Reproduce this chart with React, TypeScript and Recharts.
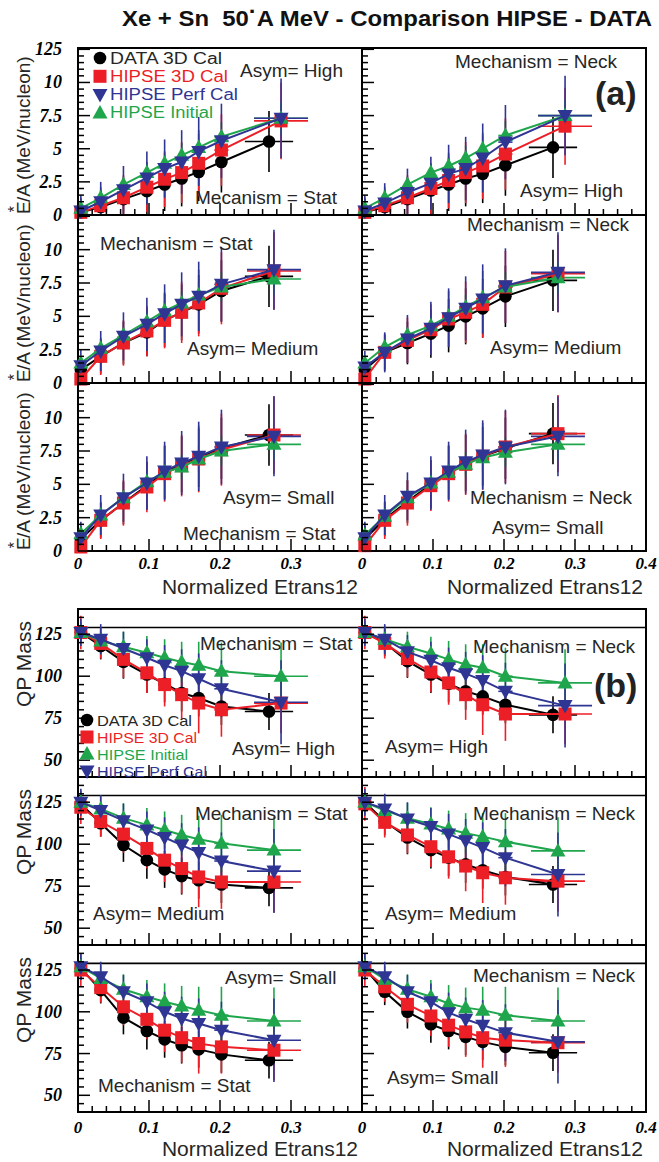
import React from "react";
import {
  ComposedChart,
  Scatter,
  XAxis,
  YAxis,
  ErrorBar,
  ReferenceArea,
  ReferenceLine,
} from "recharts";

// bin centres (Normalized Etrans12)
const X_DATA = [0.004, 0.032, 0.064, 0.097, 0.122, 0.146, 0.17, 0.202, 0.269];
const X_HIPSE_HIGH = [0.004, 0.032, 0.064, 0.097, 0.122, 0.146, 0.17, 0.202, 0.286];
const X_HIPSE = [0.004, 0.032, 0.064, 0.097, 0.122, 0.146, 0.17, 0.202, 0.276];

// horizontal errors (only the wide last bins)
const EX_DATA = [0, 0, 0, 0, 0, 0, 0, 0.008, 0.034];
const EX_HIPSE = [0, 0, 0, 0, 0, 0, 0, 0.01, 0.038];

// (a) E*/A vertical errors
const EA_DAT = [1.0, 1.3, 1.6, 1.8, 2.0, 2.1, 2.2, 2.3, 2.3];
const EA_CAL = [1.1, 1.4, 1.7, 1.9, 2.1, 2.3, 2.5, 2.7, 2.9];
const EA_INI = [0.4, 0.5, 0.6, 0.7, 0.8, 0.9, 1.0, 1.1, 1.2];
const EA_PERF = [1.2, 1.5, 1.8, 2.0, 2.2, 2.4, 2.6, 2.8, 3.0];

// (b) QP mass vertical errors
const EB_DAT = [6, 8, 10, 11, 11, 11, 11, 11, 11];
const EB_CAL = [10, 9, 11, 12, 13, 15, 18, 16, 18];
const EB_INI = [6, 8, 9, 10, 11, 12, 14, 17, 20];
const EB_PERF = [8, 9, 10, 11, 12, 13, 15, 17, 25];

// (a) E*/A values
const A_STAT_HIGH_DAT = [0.2, 0.6, 1.2, 1.8, 2.3, 2.75, 3.25, 4.0, 5.55];
const A_STAT_HIGH_CAL = [0.2, 0.7, 1.3, 2.1, 2.7, 3.2, 3.9, 4.9, 7.1];
const A_STAT_HIGH_INI = [0.5, 1.3, 2.3, 3.2, 3.9, 4.5, 5.1, 5.9, 7.3];
const A_STAT_HIGH_PERF = [0.3, 1.0, 1.9, 2.8, 3.5, 4.0, 4.8, 5.6, 7.3];

const A_NECK_HIGH_DAT = [0.2, 0.6, 1.2, 1.85, 2.3, 2.75, 3.1, 3.75, 5.1];
const A_NECK_HIGH_CAL = [0.2, 0.7, 1.3, 2.0, 2.6, 3.2, 3.7, 4.6, 6.7];
const A_NECK_HIGH_INI = [0.5, 1.3, 2.3, 3.2, 3.7, 4.3, 5.0, 6.0, 7.5];
const A_NECK_HIGH_PERF = [0.3, 0.9, 1.7, 2.4, 3.1, 3.5, 4.3, 5.5, 7.5];

const A_STAT_MED_DAT = [1.0, 2.0, 3.0, 3.8, 4.7, 5.3, 5.9, 6.9, 8.0];
const A_STAT_MED_CAL = [0.3, 2.0, 3.0, 3.9, 4.7, 5.3, 6.0, 7.1, 8.4];
const A_STAT_MED_INI = [1.5, 2.6, 3.6, 4.6, 5.4, 6.0, 6.6, 7.2, 7.8];
const A_STAT_MED_PERF = [1.3, 2.4, 3.5, 4.4, 5.2, 5.9, 6.5, 7.4, 8.5];

const A_NECK_MED_DAT = [1.0, 2.3, 3.0, 3.7, 4.3, 5.0, 5.6, 6.5, 7.7];
const A_NECK_MED_CAL = [0.3, 2.3, 3.2, 4.0, 4.8, 5.3, 5.9, 7.2, 8.2];
const A_NECK_MED_INI = [1.5, 2.7, 3.6, 4.3, 5.0, 5.7, 6.4, 7.2, 7.9];
const A_NECK_MED_PERF = [1.2, 2.3, 3.3, 4.1, 4.9, 5.6, 6.3, 7.3, 8.3];

const A_STAT_SMALL_DAT = [0.9, 2.3, 3.6, 4.9, 5.9, 6.5, 7.0, 7.7, 8.7];
const A_STAT_SMALL_CAL = [0.3, 2.3, 3.6, 4.8, 5.8, 6.4, 6.9, 7.6, 8.7];
const A_STAT_SMALL_INI = [1.3, 2.7, 4.0, 5.2, 5.9, 6.3, 6.9, 7.5, 8.0];
const A_STAT_SMALL_PERF = [1.0, 2.7, 4.0, 5.1, 6.0, 6.6, 7.1, 7.8, 8.6];

const A_NECK_SMALL_DAT = [0.9, 2.4, 3.7, 5.0, 5.9, 6.6, 7.1, 7.7, 8.8];
const A_NECK_SMALL_CAL = [0.4, 2.3, 3.6, 4.9, 5.8, 6.5, 7.1, 7.8, 8.8];
const A_NECK_SMALL_INI = [1.2, 2.6, 4.0, 5.1, 5.9, 6.5, 7.0, 7.4, 8.0];
const A_NECK_SMALL_PERF = [1.0, 2.7, 4.1, 5.1, 6.0, 6.7, 7.2, 7.8, 8.6];

// (b) QP mass values
const B_STAT_HIGH_DAT = [126, 118, 108.5, 101, 95.5, 90, 87, 82, 79];
const B_STAT_HIGH_CAL = [126, 119.5, 110, 102, 95, 89, 84, 80, 84];
const B_STAT_HIGH_INI = [126, 121, 117.5, 114, 111, 108.5, 106.5, 103, 100];
const B_STAT_HIGH_PERF = [126, 122, 116.5, 111, 106.5, 103, 98.5, 92.5, 84.5];

const B_NECK_HIGH_DAT = [126, 120, 109, 101, 95.5, 91, 88, 83, 77];
const B_NECK_HIGH_CAL = [126, 119.5, 110.5, 102.5, 96, 89, 83, 77.5, 77.5];
const B_NECK_HIGH_INI = [126, 122, 117.5, 113.5, 110, 107, 105, 100, 96];
const B_NECK_HIGH_PERF = [126, 122, 114.5, 109.5, 105, 101.5, 97.5, 91, 82.5];

const B_STAT_MED_DAT = [124, 112.5, 99.5, 90.5, 85, 81, 78.5, 76, 74];
const B_STAT_MED_CAL = [122, 113.5, 106, 97.5, 90.5, 85.5, 80.5, 77.5, 77.5];
const B_STAT_MED_INI = [125, 121, 115.5, 111.5, 108.5, 105.5, 103, 100.5, 96.5];
const B_STAT_MED_PERF = [125, 120, 114, 108.5, 104, 99.5, 95, 90, 84];

const B_NECK_MED_DAT = [125, 113.5, 104, 96.5, 92, 88, 84.5, 80.5, 76];
const B_NECK_MED_CAL = [124, 113, 105.5, 98.5, 92.5, 87, 83, 80, 78];
const B_NECK_MED_INI = [125, 120, 115.5, 112, 109, 106.5, 104.5, 101.5, 96];
const B_NECK_MED_PERF = [125, 121, 115, 110.5, 106, 102, 98, 92, 82];

const B_STAT_SMALL_DAT = [126, 113, 96.5, 88.5, 83.5, 80, 77.5, 74.5, 71];
const B_STAT_SMALL_CAL = [125, 114.5, 103, 95.5, 89, 84.5, 81, 79, 77];
const B_STAT_SMALL_INI = [127, 120, 113.5, 109, 106, 103.5, 101, 98, 94.5];
const B_STAT_SMALL_PERF = [127, 121, 112, 106, 100, 96, 93, 89, 83];

const B_NECK_SMALL_DAT = [126, 112, 100, 92.5, 88.5, 85, 82, 79, 75.5];
const B_NECK_SMALL_CAL = [125, 115, 104.5, 97.5, 92, 88, 84.5, 83, 81.5];
const B_NECK_SMALL_INI = [127, 119.5, 113.5, 109, 105, 102.5, 101, 98, 94.5];
const B_NECK_SMALL_PERF = [127, 121, 112, 106, 99.5, 95.5, 92, 87.5, 82];

// axis ticks
const X_MAJOR = [0, 0.1, 0.2, 0.3, 0.4];
const A_MAJOR = [0, 2.5, 5, 7.5, 10, 12.5];
const A_LABELS = ["0", "2.5", "5", "7.5", "10", "125"];
const B_MAJOR = [50, 75, 100, 125];
const B_LABELS = ["50", "75", "100", "125"];

const steps = (from: number, to: number, step: number) =>
  Array.from({ length: Math.round((to - from) / step) + 1 }, (_, i) =>
    Math.round((from + i * step) * 1000) / 1000
  );
const X_TICKS = steps(0, 0.4, 0.02);
const A_TICKS = steps(0, 12.5, 0.5);
const B_TICKS = steps(40, 140, 5);

const BLACK = "#000000";
const RED = "#ec1f27";
const GREEN = "#1fa64c";
const BLUE = "#2f3593";
const TXT = "#262626";
const SANS = "'Liberation Sans', Arial, sans-serif";
const SERIF = "'Liberation Serif', 'Times New Roman', serif";

const SERIES = [
  { key: "dat", name: "DATA 3D Cal", color: BLACK, marker: "circle" },
  { key: "cal", name: "HIPSE 3D Cal", color: RED, marker: "square" },
  { key: "ini", name: "HIPSE Initial", color: GREEN, marker: "up" },
  { key: "perf", name: "HIPSE Perf Cal", color: BLUE, marker: "down" },
];

// legend text widths as drawn in each block (the original font is wider)
const LEGEND_A_W: any = { dat: 112, cal: 118, perf: 128, ini: 103 };
const LEGEND_B_W: any = { dat: 95, cal: 100, ini: 91, perf: 110 };

const A_ROWS = [
  { top: 48, h: 167 },
  { top: 215, h: 168 },
  { top: 383, h: 168 },
];
const B_ROWS = [
  { top: 609, h: 168 },
  { top: 777, h: 168 },
  { top: 945, h: 167 },
];
const COL_LEFT = [78, 362];
const PLOT_W = 284;
const YW = 78;

const GROUPS: any = {
  a: {
    domain: [0, 12.6],
    ticks: A_TICKS,
    major: A_MAJOR,
    labels: A_LABELS,
    err: { dat: EA_DAT, cal: EA_CAL, ini: EA_INI, perf: EA_PERF },
    rows: A_ROWS,
    labelOff: 12,
  },
  b: {
    domain: [40, 140],
    ticks: B_TICKS,
    major: B_MAJOR,
    labels: B_LABELS,
    err: { dat: EB_DAT, cal: EB_CAL, ini: EB_INI, perf: EB_PERF },
    rows: B_ROWS,
    labelOff: 15,
  },
};

const PANELS = [
  { g: "a", row: 0, col: 0, xs: X_HIPSE_HIGH, dat: A_STAT_HIGH_DAT, cal: A_STAT_HIGH_CAL, ini: A_STAT_HIGH_INI, perf: A_STAT_HIGH_PERF },
  { g: "a", row: 0, col: 1, xs: X_HIPSE_HIGH, dat: A_NECK_HIGH_DAT, cal: A_NECK_HIGH_CAL, ini: A_NECK_HIGH_INI, perf: A_NECK_HIGH_PERF },
  { g: "a", row: 1, col: 0, xs: X_HIPSE, dat: A_STAT_MED_DAT, cal: A_STAT_MED_CAL, ini: A_STAT_MED_INI, perf: A_STAT_MED_PERF },
  { g: "a", row: 1, col: 1, xs: X_HIPSE, dat: A_NECK_MED_DAT, cal: A_NECK_MED_CAL, ini: A_NECK_MED_INI, perf: A_NECK_MED_PERF },
  { g: "a", row: 2, col: 0, xs: X_HIPSE, dat: A_STAT_SMALL_DAT, cal: A_STAT_SMALL_CAL, ini: A_STAT_SMALL_INI, perf: A_STAT_SMALL_PERF },
  { g: "a", row: 2, col: 1, xs: X_HIPSE, dat: A_NECK_SMALL_DAT, cal: A_NECK_SMALL_CAL, ini: A_NECK_SMALL_INI, perf: A_NECK_SMALL_PERF },
  { g: "b", row: 0, col: 0, xs: X_HIPSE_HIGH, dat: B_STAT_HIGH_DAT, cal: B_STAT_HIGH_CAL, ini: B_STAT_HIGH_INI, perf: B_STAT_HIGH_PERF },
  { g: "b", row: 0, col: 1, xs: X_HIPSE_HIGH, dat: B_NECK_HIGH_DAT, cal: B_NECK_HIGH_CAL, ini: B_NECK_HIGH_INI, perf: B_NECK_HIGH_PERF },
  { g: "b", row: 1, col: 0, xs: X_HIPSE, dat: B_STAT_MED_DAT, cal: B_STAT_MED_CAL, ini: B_STAT_MED_INI, perf: B_STAT_MED_PERF },
  { g: "b", row: 1, col: 1, xs: X_HIPSE, dat: B_NECK_MED_DAT, cal: B_NECK_MED_CAL, ini: B_NECK_MED_INI, perf: B_NECK_MED_PERF },
  { g: "b", row: 2, col: 0, xs: X_HIPSE, dat: B_STAT_SMALL_DAT, cal: B_STAT_SMALL_CAL, ini: B_STAT_SMALL_INI, perf: B_STAT_SMALL_PERF },
  { g: "b", row: 2, col: 1, xs: X_HIPSE, dat: B_NECK_SMALL_DAT, cal: B_NECK_SMALL_CAL, ini: B_NECK_SMALL_INI, perf: B_NECK_SMALL_PERF },
];

// panel annotations [x, y(center), text]
const NOTES: [number, number, string][] = [
  [240, 70, "Asym= High"],
  [195, 197, "Mecanism = Stat"],
  [455, 61, "Mechanism = Neck"],
  [520, 190, "Asym= High"],
  [100, 243, "Mechanism = Stat"],
  [187, 348, "Asym= Medium"],
  [467, 224, "Mechanism = Neck"],
  [490, 347, "Asym= Medium"],
  [223, 497, "Asym= Small"],
  [183, 533, "Mechanism = Stat"],
  [470, 497, "Mechanism = Neck"],
  [492, 527, "Asym= Small"],
  [200, 643, "Mechanism = Stat"],
  [232, 748, "Asym= High"],
  [473, 646, "Mechanism = Neck"],
  [385, 746, "Asym= High"],
  [195, 813, "Mechanism = Stat"],
  [93, 913, "Asym= Medium"],
  [473, 813, "Mechanism = Neck"],
  [385, 913, "Asym= Medium"],
  [225, 977, "Asym= Small"],
  [98, 1085, "Mechanism = Stat"],
  [473, 975, "Mechanism = Neck"],
  [387, 1077, "Asym= Small"],
];

function marker(kind: string, cx: number, cy: number, color: string) {
  if (cx == null || cy == null) return <g />;
  if (kind === "circle") return <circle cx={cx} cy={cy} r={6.3} fill={color} />;
  if (kind === "square")
    return <rect x={cx - 6.5} y={cy - 6.5} width={13} height={13} fill={color} />;
  if (kind === "up")
    return (
      <polygon
        points={`${cx},${cy - 8} ${cx - 7.5},${cy + 5.5} ${cx + 7.5},${cy + 5.5}`}
        fill={color}
      />
    );
  return (
    <polygon
      points={`${cx - 7.5},${cy - 5.5} ${cx + 7.5},${cy - 5.5} ${cx},${cy + 8}`}
      fill={color}
    />
  );
}

const isMajor = (v: number, list: number[]) => list.some((m) => Math.abs(m - v) < 1e-6);

const makeXTick = (labels: boolean, maxLabel: number, off: number) => (props: any) => {
  const { x, y, payload } = props;
  const v = payload.value;
  const major = isMajor(v, X_MAJOR);
  return (
    <g>
      <line x1={x} x2={x} y1={y} y2={y - (major ? 12 : 6)} stroke="#000" strokeWidth={1.5} />
      {labels && major && v <= maxLabel + 1e-6 && (
        <text
          x={x}
          y={y + off}
          textAnchor="middle"
          dominantBaseline="central"
          fontFamily={SERIF}
          fontWeight="bold"
          fontStyle="italic"
          fontSize={17}
          fill="#000"
        >
          {v === 0 ? "0" : v.toFixed(1)}
        </text>
      )}
    </g>
  );
};

const makeYTick = (grp: any, labels: boolean, topLabel: boolean) => (props: any) => {
  const { x, y, payload } = props;
  const v = payload.value;
  const idx = grp.major.findIndex((m: number) => Math.abs(m - v) < 1e-6);
  const major = idx >= 0;
  const isTop = grp.major === A_MAJOR && idx === A_MAJOR.length - 1;
  return (
    <g>
      <line x1={x} x2={x + (major ? 12 : 6)} y1={y} y2={y} stroke="#000" strokeWidth={1.5} />
      {labels && major && (!isTop || topLabel) && (
        <text
          x={x - 16}
          y={y}
          textAnchor="end"
          dominantBaseline="central"
          fontFamily={SERIF}
          fontWeight="bold"
          fontStyle="italic"
          fontSize={18}
          fill="#000"
        >
          {grp.labels[idx]}
        </text>
      )}
    </g>
  );
};

function buildRows(xs: number[], ys: number[], ey: number[], ex: number[], lo: number, hi: number) {
  return xs.map((x, i) => ({
    x,
    y: ys[i],
    ey: [Math.min(ey[i], ys[i] - lo), Math.min(ey[i], hi - ys[i])],
    ex: ex[i],
  }));
}

function Panel({ p }: { p: any }) {
  const grp = GROUPS[p.g];
  const row = grp.rows[p.row];
  const [lo, hi] = grp.domain;
  const bottomRow = p.row === 2;
  const top = 22;
  const xh = 36;
  const right = 14;
  return (
    <div style={{ position: "absolute", left: COL_LEFT[p.col] - YW, top: row.top - top }}>
      <ComposedChart
        width={YW + PLOT_W + right}
        height={top + row.h + xh}
        margin={{ top, right, bottom: 0, left: 0 }}
      >
        <XAxis
          type="number"
          dataKey="x"
          domain={[0, 0.4]}
          ticks={X_TICKS}
          interval={0}
          height={xh}
          tickSize={0}
          tickMargin={0}
          tickLine={false}
          axisLine={false}
          tick={makeXTick(bottomRow, p.col === 0 ? 0.3 : 0.4, grp.labelOff)}
        />
        <YAxis
          type="number"
          dataKey="y"
          domain={grp.domain}
          ticks={grp.ticks}
          interval={0}
          width={YW}
          tickSize={0}
          tickMargin={0}
          tickLine={false}
          axisLine={false}
          tick={makeYTick(grp, p.col === 0, p.row === 0)}
        />
        <ReferenceArea
          x1={0}
          x2={0.4}
          y1={lo}
          y2={hi}
          fill="none"
          fillOpacity={0}
          stroke="#000"
          strokeWidth={2}
        />
        {p.g === "b" && <ReferenceLine y={129} stroke="#000" strokeWidth={1.6} />}
        {SERIES.map((s) => {
          const isData = s.key === "dat";
          const data = buildRows(
            isData ? X_DATA : p.xs,
            p[s.key],
            grp.err[s.key],
            isData ? EX_DATA : EX_HIPSE,
            lo,
            hi
          );
          return (
            <Scatter
              key={s.key}
              name={s.name}
              data={data}
              fill={s.color}
              line={{ stroke: s.color, strokeWidth: 2 }}
              lineType="joint"
              shape={(sp: any) => marker(s.marker, sp.cx, sp.cy, s.color)}
              isAnimationActive={false}
            >
              <ErrorBar dataKey="ey" direction="y" width={0} stroke={s.color} strokeWidth={1.6} />
              <ErrorBar dataKey="ex" direction="x" width={0} stroke={s.color} strokeWidth={1.6} />
            </Scatter>
          );
        })}
      </ComposedChart>
    </div>
  );
}

function LegendBlock({ x, y0, dy, size, order, widths }: any) {
  return (
    <g>
      {order.map((k: string, i: number) => {
        const s = SERIES.find((q) => q.key === k)!;
        const cy = y0 + i * dy;
        return (
          <g key={k}>
            {marker(s.marker, x, cy, s.color)}
            <text
              x={x + 10}
              y={cy}
              dominantBaseline="central"
              fontFamily={SANS}
              fontSize={size}
              textLength={widths[k]}
              lengthAdjust="spacingAndGlyphs"
              fill={s.color === BLACK ? TXT : s.color}
            >
              {s.name}
            </text>
          </g>
        );
      })}
    </g>
  );
}

function YTitleEA({ bottom }: { bottom: number }) {
  return (
    <text
      transform={`translate(30, ${bottom - 1}) rotate(-90)`}
      fontFamily={SANS}
      fontSize={19}
      fill={TXT}
    >
      E
      <tspan dx={-11} dy={-10} fontSize={16}>
        *
      </tspan>
      <tspan dx={4} dy={10}>
        /A (MeV/nucleon)
      </tspan>
    </text>
  );
}

export default function App() {
  return (
    <div
      style={{
        position: "absolute",
        left: 0,
        top: 0,
        width: 659,
        height: 1162,
        background: "#fff",
        overflow: "hidden",
      }}
    >
      {PANELS.map((p, i) => (
        <Panel key={i} p={p} />
      ))}
      <svg
        width={659}
        height={1162}
        style={{ position: "absolute", left: 0, top: 0, pointerEvents: "none" }}
      >
        <text
          x={122}
          y={26}
          fontFamily={SANS}
          fontWeight="bold"
          fontSize={22}
          fill="#111"
          textLength={530}
          lengthAdjust="spacingAndGlyphs"
          style={{ whiteSpace: "pre" }}
        >
          {"Xe + Sn  50"}
          <tspan dy={-7}>·</tspan>
          <tspan dy={7}>A MeV - Comparison HIPSE - DATA</tspan>
        </text>

        {NOTES.map(([x, y, t], i) => (
          <text
            key={i}
            x={x}
            y={y}
            dominantBaseline="central"
            fontFamily={SANS}
            fontSize={19}
            fill={TXT}
          >
            {t}
          </text>
        ))}

        <text x={595} y={93} dominantBaseline="central" fontFamily={SANS} fontWeight="bold" fontSize={34} fill="#222">
          (a)
        </text>
        <text x={594} y={685} dominantBaseline="central" fontFamily={SANS} fontWeight="bold" fontSize={34} fill="#222">
          (b)
        </text>

        <LegendBlock x={100} y0={58} dy={18.3} size={16} order={["dat", "cal", "perf", "ini"]} widths={LEGEND_A_W} />
        <LegendBlock x={87} y0={720} dy={17} size={15} order={["dat", "cal", "ini", "perf"]} widths={LEGEND_B_W} />

        {A_ROWS.map((r, i) => (
          <YTitleEA key={i} bottom={r.top + r.h} />
        ))}
        {B_ROWS.map((r, i) => (
          <text
            key={i}
            transform={`translate(31, ${r.top + 55}) rotate(-90)`}
            textAnchor="middle"
            fontFamily={SANS}
            fontSize={21}
            fill={TXT}
          >
            QP Mass
          </text>
        ))}

        {[594, 1156].map((y) =>
          [358, 643].map((x) => (
            <text
              key={`${x}-${y}`}
              x={x}
              y={y}
              textAnchor="end"
              fontFamily={SANS}
              fontSize={21}
              fill={TXT}
            >
              Normalized Etrans12
            </text>
          ))
        )}
      </svg>
    </div>
  );
}
